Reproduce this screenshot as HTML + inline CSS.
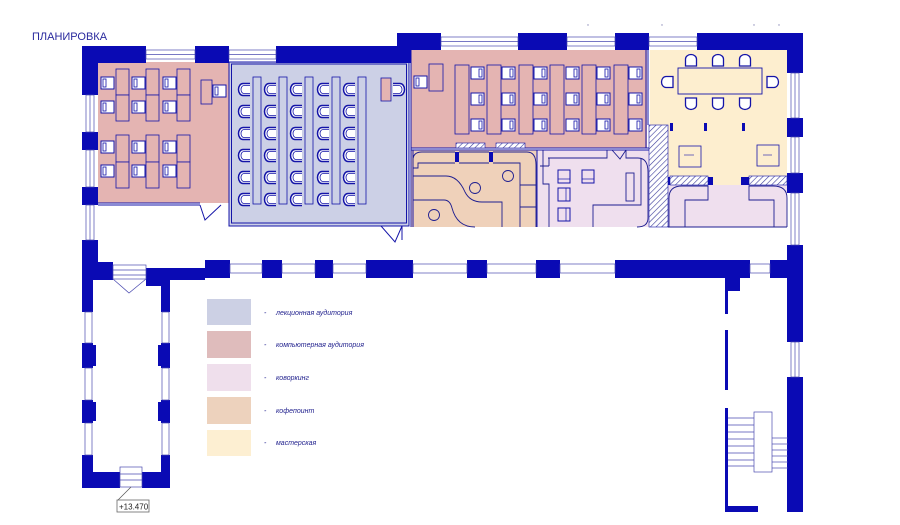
<!DOCTYPE html>
<html><head><meta charset="utf-8"><style>
html,body{margin:0;padding:0;background:#fff;width:900px;height:525px;overflow:hidden}
svg{display:block}
text{font-family:"Liberation Sans",sans-serif;fill:#1e1e8c}
</style></head><body>
<svg width="900" height="525" viewBox="0 0 900 525" xmlns="http://www.w3.org/2000/svg">
<defs>
<pattern id="h" width="4" height="4" patternUnits="userSpaceOnUse" patternTransform="rotate(45)"><rect width="4" height="4" fill="#fff"/><line x1="0" y1="0" x2="0" y2="4" stroke="#3a3a9a" stroke-width="1.2"/></pattern>
<g id="ch"><path d="M12,0.5 H5 A4.5,6 0 0 0 5,12.5 H12" fill="#fff" stroke="#1414a8" stroke-width="1.5"/><path d="M12,2.5 H6 A3,4 0 0 0 6,10.5 H12" fill="none" stroke="#1414a8" stroke-width="0.8"/></g>
<g id="pc"><rect x="0" y="0" width="13" height="12" fill="#fff" stroke="#1414a8" stroke-width="1"/><rect x="2" y="2" width="3" height="8" fill="none" stroke="#1414a8" stroke-width="0.8"/></g>
<g id="pc2"><rect x="0" y="0" width="13" height="12" fill="#fff" stroke="#1414a8" stroke-width="1"/><rect x="8" y="2" width="3" height="8" fill="none" stroke="#1414a8" stroke-width="0.8"/></g>
<g id="wc"><path d="M0.5,12 V5 A5.5,4.5 0 0 1 11.5,5 V12 Z" fill="#fff" stroke="#1414a8" stroke-width="1.3"/></g>
</defs>

<text x="32" y="40" font-size="11" style="fill:#2a2a9e">ПЛАНИРОВКА</text>
<g fill="#8a8ab8"><circle cx="588" cy="25" r="0.7"/><circle cx="662" cy="25" r="0.7"/><circle cx="754" cy="25" r="0.7"/><circle cx="779" cy="25" r="0.7"/></g>

<!-- room fills -->
<rect x="98" y="62" width="131" height="141" fill="#e4b4b2"/>
<rect x="229" y="62" width="180" height="164" fill="#ccd0e6"/>
<rect x="411" y="50" width="236" height="98" fill="#e4b4b2"/>
<rect x="411" y="150" width="126" height="77" fill="#efd1ba"/>
<rect x="537" y="150" width="113" height="77" fill="#efdfee"/>
<rect x="650" y="50" width="137" height="135" fill="#fdeecf"/>
<rect x="668" y="185" width="119" height="42" fill="#efdfee"/>

<!-- room borders -->
<g fill="none" stroke="#1414a8" stroke-width="1">
<rect x="229" y="62" width="180" height="164"/>
<rect x="231.5" y="64" width="175" height="159"/>
<line x1="98" y1="203" x2="200" y2="203"/><line x1="98" y1="205" x2="200" y2="205"/>
<line x1="411" y1="148" x2="650" y2="148"/><line x1="411" y1="150" x2="650" y2="150"/>
<line x1="411" y1="50" x2="411" y2="227"/><line x1="413" y1="150" x2="413" y2="227"/>
<line x1="646" y1="50" x2="646" y2="148"/><line x1="648" y1="50" x2="648" y2="125"/>
<line x1="537" y1="150" x2="537" y2="227"/>
<line x1="655" y1="148" x2="655" y2="227"/><line x1="652" y1="148" x2="652" y2="227"/>
<!-- doors -->
<path d="M200,205 L205,220 L221,205"/><path d="M381,226 L395,242 L402,226 M402,226 V240"/>
</g>

<!-- walls -->
<g fill="#0a0ab4">
<!-- top wall left -->
<rect x="82" y="46" width="64" height="17"/><rect x="195" y="46" width="34" height="17"/><rect x="276" y="46" width="135" height="17"/>
<rect x="397" y="33" width="44" height="17"/><rect x="392" y="46" width="19" height="16"/>
<rect x="518" y="33" width="49" height="17"/><rect x="615" y="33" width="34" height="17"/><rect x="697" y="33" width="106" height="17"/>
<!-- left wall upper -->
<rect x="82" y="46" width="16" height="49"/><rect x="82" y="132" width="16" height="18"/><rect x="82" y="187" width="16" height="18"/><rect x="82" y="240" width="16" height="40"/>
<!-- right wall -->
<rect x="787" y="33" width="16" height="40"/><rect x="787" y="118" width="16" height="19"/><rect x="787" y="173" width="16" height="20"/><rect x="787" y="245" width="16" height="97"/><rect x="787" y="377" width="16" height="135"/>
<!-- corridor bottom wall -->
<rect x="82" y="262" width="31" height="18"/><rect x="146" y="268" width="59" height="12"/><rect x="146" y="268" width="24" height="18"/>
<rect x="205" y="260" width="25" height="18"/><rect x="262" y="260" width="20" height="18"/><rect x="315" y="260" width="18" height="18"/><rect x="366" y="260" width="47" height="18"/>
<rect x="467" y="260" width="20" height="18"/><rect x="536" y="260" width="24" height="18"/><rect x="615" y="260" width="135" height="18"/><rect x="770" y="260" width="33" height="18"/>
<!-- lower left wing -->
<rect x="82" y="262" width="11" height="50"/><rect x="82" y="343" width="11" height="25"/><rect x="93" y="345" width="3" height="21"/><rect x="82" y="400" width="11" height="23"/><rect x="93" y="402" width="3" height="19"/><rect x="82" y="455" width="11" height="33"/>
<rect x="161" y="285" width="9" height="27"/><rect x="161" y="343" width="9" height="25"/><rect x="158" y="345" width="3" height="21"/><rect x="161" y="400" width="9" height="23"/><rect x="158" y="402" width="3" height="19"/><rect x="161" y="455" width="9" height="33"/>
<rect x="82" y="472" width="38" height="16"/><rect x="142" y="472" width="28" height="16"/>
<!-- stairwell -->
<rect x="725" y="278" width="15" height="13"/><rect x="725" y="291" width="3" height="23"/><rect x="725" y="330" width="3" height="60"/><rect x="725" y="408" width="3" height="100"/>
<rect x="725" y="506" width="33" height="6"/><rect x="788" y="506" width="15" height="6"/>
<!-- coffee partitions -->
<rect x="455" y="152" width="4" height="10"/><rect x="489" y="152" width="4" height="10"/>
<rect x="666" y="177" width="6" height="8"/><rect x="708" y="177" width="5" height="8"/><rect x="741" y="177" width="8" height="8"/>
<rect x="670" y="123" width="3" height="8"/><rect x="704" y="123" width="3" height="8"/><rect x="742" y="123" width="3" height="8"/>
</g>

<!-- windows -->
<g fill="#fff" stroke="#4a4ab0" stroke-width="0.7">
<rect x="146" y="50" width="49" height="9"/><line x1="146" y1="54.5" x2="195" y2="54.5"/>
<rect x="229" y="50" width="47" height="9"/><line x1="229" y1="54.5" x2="276" y2="54.5"/>
<rect x="441" y="37" width="77" height="9"/><line x1="441" y1="41.5" x2="518" y2="41.5"/>
<rect x="567" y="37" width="48" height="9"/><line x1="567" y1="41.5" x2="615" y2="41.5"/>
<rect x="649" y="37" width="48" height="9"/><line x1="649" y1="41.5" x2="697" y2="41.5"/>
<rect x="86" y="95" width="8" height="37"/><line x1="90" y1="95" x2="90" y2="132"/>
<rect x="86" y="150" width="8" height="37"/><line x1="90" y1="150" x2="90" y2="187"/>
<rect x="86" y="205" width="8" height="35"/><line x1="90" y1="205" x2="90" y2="240"/>
<rect x="791" y="73" width="8" height="45"/><line x1="795" y1="73" x2="795" y2="118"/>
<rect x="791" y="137" width="8" height="36"/><line x1="795" y1="137" x2="795" y2="173"/>
<rect x="791" y="193" width="8" height="52"/><line x1="795" y1="193" x2="795" y2="245"/>
<rect x="791" y="342" width="8" height="35"/><line x1="795" y1="342" x2="795" y2="377"/>
<rect x="230" y="264" width="32" height="9"/><rect x="282" y="264" width="33" height="9"/><rect x="333" y="264" width="33" height="9"/>
<rect x="413" y="264" width="54" height="9"/><rect x="487" y="264" width="49" height="9"/><rect x="560" y="264" width="55" height="9"/><rect x="750" y="264" width="20" height="9"/>
<rect x="85" y="312" width="7" height="31"/><rect x="85" y="368" width="7" height="32"/><rect x="85" y="423" width="7" height="32"/>
<rect x="162" y="312" width="7" height="31"/><rect x="162" y="368" width="7" height="32"/><rect x="162" y="423" width="7" height="32"/>
<rect x="113" y="265" width="33" height="14"/><line x1="113" y1="270" x2="146" y2="270"/><line x1="113" y1="275" x2="146" y2="275"/>
<rect x="120" y="467" width="22" height="20"/><line x1="120" y1="474" x2="142" y2="474"/><line x1="120" y1="480" x2="142" y2="480"/>
</g>
<path d="M113,279 L129,293 L146,279" fill="none" stroke="#4a4ab0" stroke-width="0.7"/>
<path d="M131,487 L118,500" stroke="#555" stroke-width="0.7"/>
<rect x="117" y="500" width="32" height="12" fill="#fff" stroke="#666" stroke-width="0.8"/>
<text x="119" y="509.5" font-size="8" style="fill:#222">+13.470</text>

<!-- stairs -->
<g stroke="#4a4ab0" stroke-width="0.7" fill="none">
<rect x="754" y="412" width="18" height="60"/>
<line x1="728" y1="418" x2="754" y2="418"/><line x1="728" y1="425" x2="754" y2="425"/><line x1="728" y1="432" x2="754" y2="432"/><line x1="728" y1="439" x2="754" y2="439"/><line x1="728" y1="446" x2="754" y2="446"/><line x1="728" y1="453" x2="754" y2="453"/><line x1="728" y1="460" x2="754" y2="460"/><line x1="728" y1="466" x2="754" y2="466"/>
<line x1="772" y1="438" x2="788" y2="438"/><line x1="772" y1="444" x2="788" y2="444"/><line x1="772" y1="450" x2="788" y2="450"/><line x1="772" y1="456" x2="788" y2="456"/><line x1="772" y1="462" x2="788" y2="462"/><line x1="772" y1="468" x2="788" y2="468"/>
</g>

<!-- computer room 1 -->
<g fill="#e4b4b2" stroke="#1414a8" stroke-width="0.8">
<rect x="116" y="69" width="13" height="26"/><rect x="116" y="95" width="13" height="26"/>
<rect x="146" y="69" width="13" height="26"/><rect x="146" y="95" width="13" height="26"/>
<rect x="177" y="69" width="13" height="26"/><rect x="177" y="95" width="13" height="26"/>
<rect x="116" y="135" width="13" height="27"/><rect x="116" y="162" width="13" height="26"/>
<rect x="146" y="135" width="13" height="27"/><rect x="146" y="162" width="13" height="26"/>
<rect x="177" y="135" width="13" height="27"/><rect x="177" y="162" width="13" height="26"/>
<rect x="201" y="80" width="11" height="24"/>
<rect x="381" y="78" width="10" height="23"/>
</g>
<g>
<use href="#pc" x="101" y="77"/><use href="#pc" x="132" y="77"/><use href="#pc" x="163" y="77"/>
<use href="#pc" x="101" y="101"/><use href="#pc" x="132" y="101"/><use href="#pc" x="163" y="101"/>
<use href="#pc" x="101" y="141"/><use href="#pc" x="132" y="141"/><use href="#pc" x="163" y="141"/>
<use href="#pc" x="101" y="165"/><use href="#pc" x="132" y="165"/><use href="#pc" x="163" y="165"/>
<use href="#pc" x="213" y="85"/>
</g>

<!-- lecture -->
<g fill="#ccd0e6" stroke="#1414a8" stroke-width="0.8">
<rect x="253" y="77" width="8" height="127"/><rect x="279" y="77" width="8" height="127"/><rect x="305" y="77" width="8" height="127"/><rect x="332" y="77" width="8" height="127"/><rect x="358" y="77" width="8" height="127"/>
</g>
<g>
<use href="#ch" x="238" y="83"/><use href="#ch" x="264" y="83"/><use href="#ch" x="290" y="83"/><use href="#ch" x="317" y="83"/><use href="#ch" x="343" y="83"/>
<use href="#ch" x="238" y="105"/><use href="#ch" x="264" y="105"/><use href="#ch" x="290" y="105"/><use href="#ch" x="317" y="105"/><use href="#ch" x="343" y="105"/>
<use href="#ch" x="238" y="127"/><use href="#ch" x="264" y="127"/><use href="#ch" x="290" y="127"/><use href="#ch" x="317" y="127"/><use href="#ch" x="343" y="127"/>
<use href="#ch" x="238" y="149"/><use href="#ch" x="264" y="149"/><use href="#ch" x="290" y="149"/><use href="#ch" x="317" y="149"/><use href="#ch" x="343" y="149"/>
<use href="#ch" x="238" y="171"/><use href="#ch" x="264" y="171"/><use href="#ch" x="290" y="171"/><use href="#ch" x="317" y="171"/><use href="#ch" x="343" y="171"/>
<use href="#ch" x="238" y="193"/><use href="#ch" x="264" y="193"/><use href="#ch" x="290" y="193"/><use href="#ch" x="317" y="193"/><use href="#ch" x="343" y="193"/>
<use href="#ch" transform="translate(405,83) scale(-1,1)"/>
</g>

<!-- computer room 2 -->
<g fill="#e4b4b2" stroke="#1414a8" stroke-width="0.8">
<rect x="429" y="64" width="14" height="27"/>
<rect x="455" y="65" width="14" height="69"/><rect x="487" y="65" width="14" height="69"/><rect x="519" y="65" width="14" height="69"/><rect x="550" y="65" width="14" height="69"/><rect x="582" y="65" width="14" height="69"/><rect x="614" y="65" width="14" height="69"/>
</g>
<g>
<use href="#pc" x="414" y="76"/>
<use href="#pc2" x="471" y="67"/><use href="#pc2" x="502" y="67"/><use href="#pc2" x="534" y="67"/><use href="#pc2" x="566" y="67"/><use href="#pc2" x="597" y="67"/><use href="#pc2" x="629" y="67"/>
<use href="#pc2" x="471" y="93"/><use href="#pc2" x="502" y="93"/><use href="#pc2" x="534" y="93"/><use href="#pc2" x="566" y="93"/><use href="#pc2" x="597" y="93"/><use href="#pc2" x="629" y="93"/>
<use href="#pc2" x="471" y="119"/><use href="#pc2" x="502" y="119"/><use href="#pc2" x="534" y="119"/><use href="#pc2" x="566" y="119"/><use href="#pc2" x="597" y="119"/><use href="#pc2" x="629" y="119"/>
</g>
<g fill="url(#h)" stroke="#1414a8" stroke-width="0.6">
<rect x="456" y="143" width="29" height="5"/><rect x="496" y="143" width="29" height="5"/>
<rect x="649" y="125" width="19" height="102"/>
<rect x="670" y="176" width="38" height="9"/><rect x="749" y="176" width="38" height="9"/>
</g>

<!-- coffee point -->
<g fill="none" stroke="#1e1e90" stroke-width="0.9">
<path d="M413,166 V160 Q413,152 422,152 H455 M459,152 H489 M493,152 H527 Q536,152 536,165 V227"/>
<path d="M413,168 H418 V163 H455 M459,163 H489 M493,163 H520 V227"/>
<path d="M413,176 H446 Q458,176 465,192 Q470,202 482,202 H502 V227"/>
<path d="M413,200 H444 Q450,200 452,208 Q457,227 475,227"/>
<circle cx="508" cy="176" r="5.5"/><circle cx="475" cy="188" r="5.5"/><circle cx="434" cy="215" r="5.5"/>
<path d="M520,185 H536 M520,207 H536"/>
</g>

<!-- coworking 1 -->
<g fill="none" stroke="#1e1e90" stroke-width="0.9">
<path d="M549,227 V184 H543 V150"/>
<path d="M549,184 Q549,184 549,184"/>
<path d="M549,166 H540 M549,166 V158"/>
<path d="M548,158 H607 V150"/>
<path d="M612,150 L620,159 L626,150 M626,150 V158 H638 Q648,158 648,172 V218 Q648,227 637,227"/>
<path d="M593,227 V205 H641 V158"/>
<rect x="626" y="173" width="8" height="28"/>
</g>
<g fill="#efdfee" stroke="#1414a8" stroke-width="1">
<rect x="558" y="170" width="12" height="13"/><rect x="582" y="170" width="12" height="13"/>
<rect x="558" y="188" width="12" height="13"/><rect x="558" y="208" width="12" height="13"/>
</g>
<g stroke="#1414a8" stroke-width="0.7"><line x1="558" y1="179" x2="570" y2="179"/><line x1="582" y1="179" x2="594" y2="179"/><line x1="566" y1="188" x2="566" y2="201"/><line x1="566" y1="208" x2="566" y2="221"/></g>

<!-- workshop -->
<rect x="678" y="68" width="84" height="26" fill="#fdeecf" stroke="#1414a8" stroke-width="0.9"/>
<g>
<use href="#wc" x="685" y="54"/><use href="#wc" x="712" y="54"/><use href="#wc" x="739" y="54"/>
<use href="#wc" transform="translate(685,110) scale(1,-1)"/><use href="#wc" transform="translate(712,110) scale(1,-1)"/><use href="#wc" transform="translate(739,110) scale(1,-1)"/>
<use href="#wc" transform="translate(661,88) rotate(-90)"/><use href="#wc" transform="translate(779,76) rotate(90)"/>
</g>
<g fill="#fdeecf" stroke="#1414a8" stroke-width="0.8"><rect x="679" y="146" width="22" height="21"/><rect x="757" y="145" width="22" height="21"/></g>
<g stroke="#1414a8" stroke-width="0.6"><line x1="684" y1="155" x2="694" y2="155"/><line x1="763" y1="155" x2="772" y2="155"/></g>
<!-- coworking 2 outlines -->
<g fill="none" stroke="#1e1e90" stroke-width="0.9">
<path d="M669,227 V198 Q669,186 682,186 H708 V200 H685 V227"/>
<path d="M787,227 V198 Q787,186 773,186 H749 V200 H774 V227"/>
<line x1="668" y1="227" x2="787" y2="227"/>
</g>

<!-- legend -->
<rect x="207" y="299" width="44" height="26" fill="#ccd0e4"/>
<rect x="207" y="331" width="44" height="27" fill="#dfbcbc"/>
<rect x="207" y="364" width="44" height="27" fill="#efdfec"/>
<rect x="207" y="397" width="44" height="27" fill="#edd2bd"/>
<rect x="207" y="430" width="44" height="26" fill="#fdefd2"/>
<g font-size="7" font-style="italic">
<text x="264" y="315">-</text><text x="276" y="315">лекционная аудитория</text>
<text x="264" y="347">-</text><text x="276" y="347">компьютерная аудитория</text>
<text x="264" y="380">-</text><text x="276" y="380">коворкинг</text>
<text x="264" y="413">-</text><text x="276" y="413">кофепоинт</text>
<text x="264" y="445">-</text><text x="276" y="445">мастерская</text>
</g>
</svg>
</body></html>
